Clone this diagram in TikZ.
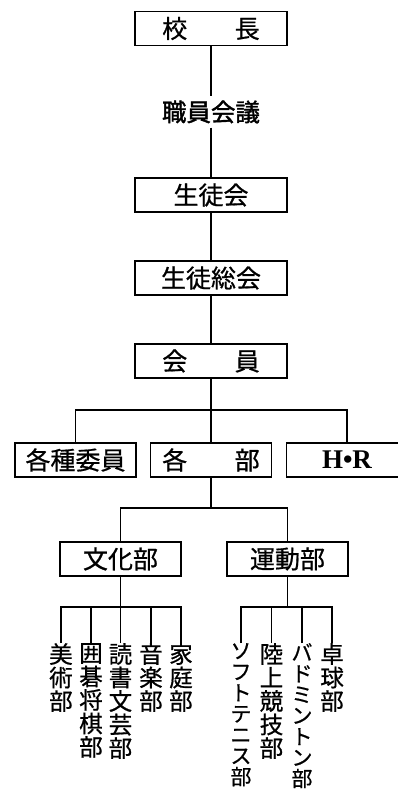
\documentclass[tikz,border=0pt]{standalone}
\usepackage{fontspec}
\setmainfont{Liberation Serif}
\newfontfamily\cjk[FakeBold=0.7]{Noto Sans CJK JP}
\newfontfamily\cjkb[FakeBold=1.6]{Noto Sans CJK JP}
\newcommand\tatefont[2]{\cjk\fontsize{#1}{#2}\selectfont\lineskiplimit-100pt\relax}

\tikzset{
  box/.style={rectangle, draw, line width=1.3pt, minimum height=34pt, inner sep=0pt,
    font=\cjk\fontsize{25}{28}\selectfont},
  widebox/.style={box, minimum width=152pt},
  narrowbox/.style={box, minimum width=121pt},
  tate/.style={anchor=north, align=center, inner sep=0pt, font={\tatefont{23.5}{23.5}}},
  kana/.style={tate, font={\tatefont{21}{21}}},
  link/.style={line width=1.3pt}
}

\begin{document}
\begin{tikzpicture}[x=1pt, y=-1pt]
    \useasboundingbox (0,0) rectangle (398,791);

    % 上の列
    \node[widebox] (kocho) at (211,28.5) {校\hspace{1.9em}長};
    \node[inner sep=4pt, font=\cjkb\fontsize{24.5}{28}\selectfont] (kaigi) at (211,112) {職員会議};
    \node[widebox] (seitokai) at (211,195) {生徒会};
    \node[widebox] (sokai) at (211,278) {生徒総会};
    \node[widebox] (kaiin) at (211,361) {会\hspace{1.9em}員};

    \node[narrowbox] (iin) at (75.5,460) {各種委員};
    \node[narrowbox] (kakubu) at (211,460) {各\hspace{1.9em}部};
    \node[narrowbox, font=\bfseries\fontsize{27}{28}\selectfont] (hr) at (347,460) {H•R};

    \node[narrowbox] (bunka) at (120.5,559) {文化部};
    \node[narrowbox] (undo) at (287.5,559) {運動部};

    % 部の名前
    \node[tate] (bijutsu) at (61,643) {美\\術\\部};
    \node[tate] (igo) at (91,643) {囲\\碁\\将\\棋\\部};
    \node[tate] (dokusho) at (120.5,643) {読\\書\\文\\芸\\部};
    \node[tate] (ongaku) at (151,643) {音\\楽\\部};
    \node[tate] (katei) at (181,643) {家\\庭\\部};

    \node[kana] (tenisu) at (241,643) {ソ\\フ\\ト\\テ\\ニ\\ス\\部};
    \node[tate] (rikujo) at (271.5,643) {陸\\上\\競\\技\\部};
    \node[kana] (bado) at (302,643) {バ\\ド\\ミ\\ン\\ト\\ン\\部};
    \node[tate] (takkyu) at (332,643) {卓\\球\\部};

    \coordinate (b1) at (211,410);
    \coordinate (b2) at (211,508);
    \coordinate (b3) at (120.5,607);
    \coordinate (b4) at (287.5,607);

    \draw[link] (kocho) -- (kaigi) -- (seitokai) -- (sokai) -- (kaiin) -- (b1);
    \draw[link] (iin.north) |- (b1) -| (hr.north);
    \draw[link] (b1) -- (kakubu);
    \draw[link] (kakubu) -- (b2);
    \draw[link] (bunka.north) |- (b2) -| (undo.north);

    \draw[link] (bunka) -- (b3);
    \draw[link] (bijutsu.north) |- (b3) -| (katei.north);
    \draw[link] (igo.north) -- (igo.north |- b3);
    \draw[link] (dokusho.north) -- (b3);
    \draw[link] (ongaku.north) -- (ongaku.north |- b3);

    \draw[link] (undo) -- (b4);
    \draw[link] (tenisu.north) |- (b4) -| (takkyu.north);
    \draw[link] (rikujo.north) -- (rikujo.north |- b4);
    \draw[link] (bado.north) -- (bado.north |- b4);
\end{tikzpicture}
\end{document}
